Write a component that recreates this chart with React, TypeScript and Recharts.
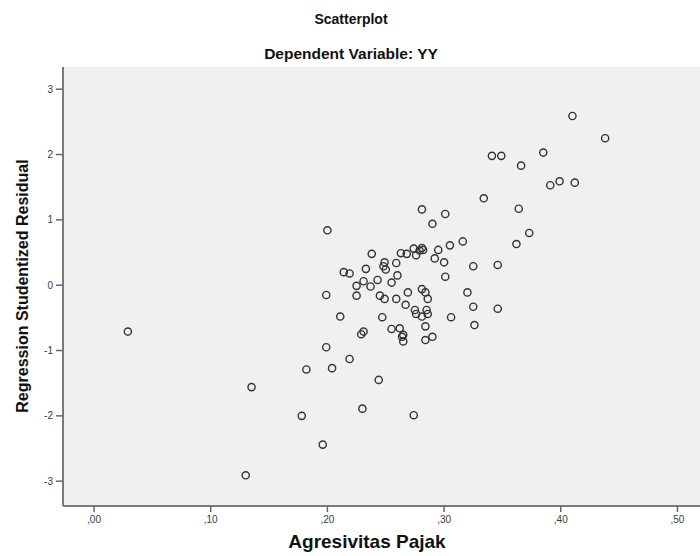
import React from 'react';
import { ScatterChart, Scatter, XAxis, YAxis, CartesianGrid } from 'recharts';

const xValues: number[] = [
  0.029, 0.135, 0.130, 0.211, 0.229, 0.231, 0.199, 0.219, 0.182, 0.204,
  0.244, 0.178, 0.230, 0.196, 0.200, 0.238, 0.214, 0.219, 0.233, 0.231,
  0.225, 0.243, 0.237, 0.225, 0.199, 0.245, 0.249, 0.341, 0.349, 0.366,
  0.334, 0.364, 0.281, 0.301, 0.290, 0.362, 0.316, 0.305, 0.295, 0.292,
  0.300, 0.301, 0.325, 0.346, 0.274, 0.281, 0.279, 0.268, 0.263, 0.276,
  0.259, 0.249, 0.248, 0.250, 0.260, 0.255, 0.259, 0.269, 0.267, 0.281,
  0.284, 0.286, 0.320, 0.325, 0.346, 0.247, 0.275, 0.276, 0.281, 0.285,
  0.286, 0.284, 0.306, 0.326, 0.255, 0.262, 0.265, 0.264, 0.265, 0.284,
  0.290, 0.410, 0.438, 0.385, 0.391, 0.399, 0.412, 0.373, 0.282, 0.274,
];

const yValues: number[] = [
  -0.71, -1.56, -2.91, -0.48, -0.75, -0.71, -0.95, -1.13, -1.29, -1.27,
  -1.45, -2.00, -1.89, -2.44, 0.84, 0.48, 0.20, 0.18, 0.25, 0.06,
  -0.01, 0.08, -0.02, -0.16, -0.15, -0.16, -0.21, 1.98, 1.98, 1.83,
  1.33, 1.17, 1.16, 1.09, 0.94, 0.63, 0.67, 0.61, 0.54, 0.41,
  0.35, 0.13, 0.29, 0.31, 0.56, 0.57, 0.53, 0.48, 0.49, 0.46,
  0.34, 0.35, 0.29, 0.24, 0.15, 0.04, -0.21, -0.11, -0.30, -0.06,
  -0.11, -0.21, -0.11, -0.33, -0.36, -0.49, -0.38, -0.44, -0.48, -0.38,
  -0.44, -0.63, -0.49, -0.61, -0.67, -0.66, -0.76, -0.79, -0.86, -0.84,
  -0.79, 2.59, 2.25, 2.03, 1.53, 1.59, 1.57, 0.80, 0.54, -1.99,
];

const xTicks: number[] = [0, 0.1, 0.2, 0.3, 0.4, 0.5];
const yTicks: number[] = [-3, -2, -1, 0, 1, 2, 3];

const titleText = 'Scatterplot';
const subtitleText = 'Dependent Variable: YY';
const xLabelText = 'Agresivitas Pajak';
const yLabelText = 'Regression Studentized Residual';

const data = xValues.map((x, i) => ({ x, y: yValues[i] }));

const fmtX = (v: number) => ',' + String(Math.round(v * 100)).padStart(2, '0');

const Ring = (props: any) => {
  const { cx, cy } = props;
  if (cx == null || cy == null) return null;
  return <circle cx={cx} cy={cy} r={3.6} fill="none" stroke="#333" strokeWidth={1.4} />;
};

const font = '"Liberation Sans", Arial, sans-serif';
const tickStyle = { fontSize: 10, fill: '#3a3a3a', fontFamily: font };

export default function App() {
  return (
    <div style={{ position: 'fixed', left: 0, top: 0, width: 700, height: 556, overflow: 'hidden', background: '#fff', fontFamily: font }}>
      <div style={{ position: 'absolute', left: 0, width: 702, top: 11, textAlign: 'center', fontWeight: 'bold', fontSize: 14, color: '#111' }}>{titleText}</div>
      <div style={{ position: 'absolute', left: 0, width: 702, top: 45, textAlign: 'center', fontWeight: 'bold', fontSize: 15.5, color: '#111' }}>{subtitleText}</div>
      <div style={{ position: 'absolute', left: 0, width: 734, top: 531, textAlign: 'center', fontWeight: 'bold', fontSize: 19, color: '#111' }}>{xLabelText}</div>
      <div style={{ position: 'absolute', left: 23, top: 287, width: 0, height: 0 }}>
        <div style={{ position: 'absolute', left: -200, top: -10, width: 400, textAlign: 'center', transform: 'rotate(-90deg)', fontWeight: 'bold', fontSize: 16, color: '#111', whiteSpace: 'nowrap' }}>{yLabelText}</div>
      </div>
      <div style={{ position: 'absolute', left: 0, top: 0 }}>
        <ScatterChart width={760} height={556} margin={{ top: 67, right: 20, bottom: 0, left: 0 }}>
          <CartesianGrid fill="#f0f0f0" horizontal={false} vertical={false} />
          <XAxis
            dataKey="x"
            type="number"
            domain={[-0.0266, 0.5536]}
            ticks={xTicks}
            tickFormatter={fmtX}
            height={50}
            tickSize={6}
            tickMargin={4}
            tick={tickStyle}
            axisLine={{ stroke: '#7a7a7a', strokeWidth: 2 }}
            tickLine={{ stroke: '#666', strokeWidth: 1.5 }}
            allowDataOverflow
          />
          <XAxis
            xAxisId="top"
            orientation="top"
            type="number"
            domain={[-0.0266, 0.5536]}
            height={0}
            tick={false}
            tickLine={false}
            axisLine={{ stroke: '#8a8a8a', strokeWidth: 2.5 }}
            allowDataOverflow
          />
          <YAxis
            dataKey="y"
            type="number"
            domain={[-3.38, 3.34]}
            ticks={yTicks}
            width={63}
            tickSize={7}
            tickMargin={3}
            tick={tickStyle}
            axisLine={{ stroke: '#7a7a7a', strokeWidth: 2 }}
            tickLine={{ stroke: '#666', strokeWidth: 1.5 }}
            allowDataOverflow
          />
          <Scatter data={data} shape={Ring} isAnimationActive={false} />
        </ScatterChart>
      </div>
    </div>
  );
}
